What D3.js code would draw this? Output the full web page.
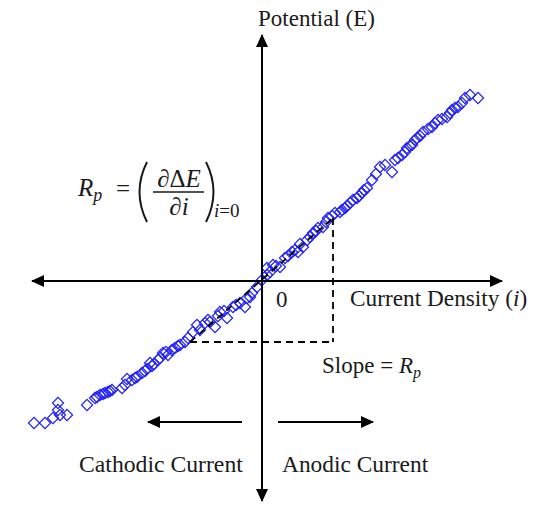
<!DOCTYPE html>
<html>
<head>
<meta charset="utf-8">
<script src="https://cdn.jsdelivr.net/npm/d3@7"></script>
<style>
  html, body { margin: 0; padding: 0; background: #fff; }
  svg { display: block; }
  text { font-family: "Liberation Serif", "Times New Roman", serif; fill: #1a1a1a; }
</style>
</head>
<body>
<svg id="chart" width="533" height="509"></svg>
<script>
// Measured polarization data: current density (i) vs potential shift (E), arbitrary units
const current = [
  -22.8, -21.7, -20.9, -20.4, -20.4, -20.2, -19.5, -17.5, -16.7, -16.2,
  -15.7, -15.4, -15.0, -14.0, -13.5, -13.0, -12.5, -12.0, -11.5, -11.2,
  -10.8, -10.4, -9.9, -9.4, -8.7, -8.2, -7.7, -6.9, -6.5, -5.7,
  -5.4, -4.7, -4.2, -3.5, -2.9, -2.2, -1.7, -1.5, -1.0, -0.5,
  0.0, 0.5, 0.5, 1.1, 1.8, 2.3, 3.0, 3.6, 4.1, 4.5,
  5.1, 5.6, 6.1, 6.6, 7.3, 7.8, 8.3, 8.8, 9.5, 10.0,
  10.5, 11.0, 11.4, 11.8, 13.0, 13.3, 14.0, 14.5, 15.0, 15.5,
  16.1, 17.0, 17.6, 18.5, 19.0, 19.6, 20.3, 20.8, 21.6,
  -16.5, -15.9, -15.2, -13.7, -12.7, -11.7, -11.0, -10.2, -9.6, -9.0,
  -8.4, -7.4, -6.2, -5.2, -4.4, -3.8, -2.6, -1.2, 0.8, 1.4,
  2.6, 3.3, 3.8, 4.8, 5.4, 6.4, 7.0, 8.0, 8.5, 9.1,
  9.7, 10.2, 12.3, 13.6, 14.3, 14.8, 15.3, 15.8, 16.6, 17.3,
  18.0, 18.8, 19.3, 20.0
];
const potential = [
  -14.2, -14.2, -13.7, -12.2, -12.9, -13.4, -13.4, -12.4, -11.7, -11.4,
  -11.2, -11.1, -10.9, -10.7, -9.8, -9.9, -9.6, -9.2, -8.8, -8.2,
  -8.3, -7.9, -7.2, -7.4, -6.7, -6.4, -6.1, -5.1, -4.4, -4.2,
  -3.9, -4.6, -3.1, -3.7, -2.6, -2.2, -2.6, -1.7, -1.2, -0.6,
  0.1, 0.6, 1.3, 1.6, 1.4, 2.3, 2.9, 2.9, 3.4, 4.1,
  4.8, 5.3, 5.4, 6.3, 6.8, 6.9, 7.3, 7.8, 8.3, 8.8,
  9.3, 10.1, 10.7, 11.4, 10.9, 12.1, 12.6, 13.3, 13.6, 14.3,
  14.9, 15.4, 16.1, 16.4, 17.1, 17.4, 18.3, 18.6, 18.3,
  -11.6, -11.3, -11.0, -10.4, -9.7, -9.0, -8.5, -7.7, -7.1, -6.9,
  -6.5, -5.7, -4.9, -4.1, -3.5, -3.0, -2.4, -1.6, 0.9, 1.5,
  2.5, 3.1, 3.7, 4.4, 5.0, 5.9, 6.5, 7.1, 7.5, 8.1,
  8.5, 9.1, 11.6, 12.3, 12.9, 13.5, 14.1, 14.5, 15.2, 15.8,
  16.2, 16.8, 17.3, 17.8
];

// Linear fit around i = 0 (the polarization resistance line)
const slopeStart = [-7.2, -6.1];
const slopeEnd = [7.1, 6.3];

// Axis extents
const currentExtent = [-23, 24];
const potentialExtent = [-22, 24.6];

const svg = d3.select("#chart");

const x = d3.scaleLinear().domain(currentExtent).range([32, 502]);
const y = d3.scaleLinear().domain(potentialExtent).range([501, 35]);

// Arrowhead marker
const defs = svg.append("defs");
defs.append("marker")
  .attr("id", "head")
  .attr("markerUnits", "userSpaceOnUse")
  .attr("markerWidth", 13).attr("markerHeight", 12)
  .attr("refX", 12).attr("refY", 6)
  .attr("viewBox", "0 0 13 12")
  .attr("orient", "auto-start-reverse")
  .append("path")
  .attr("d", "M0,0 L13,6 L0,12 Z")
  .attr("fill", "#000");

// Data markers: open diamonds
const points = current.map((c, k) => ({ c, p: potential[k] }));
const diamond = d3.symbol().type(d3.symbolSquare).size(62);
svg.append("g").selectAll("path")
  .data(points)
  .join("path")
  .attr("d", diamond)
  .attr("transform", d => `translate(${x(d.c)},${y(d.p)}) rotate(45)`)
  .attr("fill", "none")
  .attr("stroke", "#1f1fff")
  .attr("stroke-width", 1.2);

const axes = svg.append("g").attr("stroke", "#000").attr("stroke-width", 2);

// Current density axis (both directions)
axes.append("line")
  .attr("x1", x(currentExtent[0])).attr("x2", x(currentExtent[1]))
  .attr("y1", y(0)).attr("y2", y(0))
  .attr("marker-start", "url(#head)").attr("marker-end", "url(#head)");

// Potential axis (both directions)
axes.append("line")
  .attr("x1", x(0)).attr("x2", x(0))
  .attr("y1", y(potentialExtent[0])).attr("y2", y(potentialExtent[1]))
  .attr("marker-start", "url(#head)").attr("marker-end", "url(#head)");

// Dashed slope triangle
const corner = [slopeEnd[0], slopeStart[1]];
const dashed = svg.append("g")
  .attr("fill", "none").attr("stroke", "#000")
  .attr("stroke-width", 1.8).attr("stroke-dasharray", "7,5");
const line = d3.line().x(d => x(d[0])).y(d => y(d[1]));
dashed.append("path").attr("d", line([slopeStart, slopeEnd]));
dashed.append("path").attr("d", line([slopeStart, corner]));
dashed.append("path").attr("d", line([slopeEnd, corner]));

// Axis titles
svg.append("text").attr("x", 258).attr("y", 26)
  .attr("font-size", 23).text("Potential (E)");

const ct = svg.append("text").attr("x", 350).attr("y", 306).attr("font-size", 23.3);
ct.append("tspan").text("Current Density (");
ct.append("tspan").attr("font-style", "italic").text("i");
ct.append("tspan").text(")");

svg.append("text").attr("x", x(0) + 14).attr("y", 307)
  .attr("font-size", 23).text("0");

// Slope label
const sl = svg.append("text").attr("x", 322).attr("y", 373).attr("font-size", 23);
sl.append("tspan").text("Slope = ");
sl.append("tspan").attr("font-style", "italic").text("R");
sl.append("tspan").attr("font-style", "italic").attr("font-size", 16).attr("dy", 5).text("p");

// Direction arrows
const dir = svg.append("g").attr("stroke", "#000").attr("stroke-width", 2);
dir.append("line").attr("x1", 242).attr("x2", 148).attr("y1", 422).attr("y2", 422)
  .attr("marker-end", "url(#head)");
dir.append("line").attr("x1", 278).attr("x2", 373).attr("y1", 422).attr("y2", 422)
  .attr("marker-end", "url(#head)");

svg.append("text").attr("x", 79).attr("y", 472).attr("font-size", 23.7).text("Cathodic Current");
svg.append("text").attr("x", 282).attr("y", 472).attr("font-size", 23.4).text("Anodic Current");

// Polarization resistance definition
const f = svg.append("g");
const rp = f.append("text").attr("x", 78).attr("y", 196).attr("font-size", 25);
rp.append("tspan").attr("font-style", "italic").text("R");
rp.append("tspan").attr("font-style", "italic").attr("font-size", 18).attr("dy", 5).text("p");
f.append("text").attr("x", 116).attr("y", 197).attr("font-size", 25).text("=");

f.append("path").attr("d", "M147,162 Q132,192 147,222")
  .attr("fill", "none").attr("stroke", "#1a1a1a").attr("stroke-width", 2);
f.append("path").attr("d", "M206,162 Q221,192 206,222")
  .attr("fill", "none").attr("stroke", "#1a1a1a").attr("stroke-width", 2);

const num = f.append("text").attr("x", 179).attr("y", 187).attr("font-size", 25)
  .attr("text-anchor", "middle");
num.append("tspan").text("\u2202\u0394");
num.append("tspan").attr("font-style", "italic").text("E");
f.append("line").attr("x1", 153).attr("x2", 204).attr("y1", 192).attr("y2", 192)
  .attr("stroke", "#1a1a1a").attr("stroke-width", 1.5);
const den = f.append("text").attr("x", 179).attr("y", 215).attr("font-size", 25)
  .attr("text-anchor", "middle");
den.append("tspan").text("\u2202");
den.append("tspan").attr("font-style", "italic").text("i");

const sub = f.append("text").attr("x", 214).attr("y", 217).attr("font-size", 19);
sub.append("tspan").attr("font-style", "italic").text("i");
sub.append("tspan").text("=0");
</script>
</body>
</html>
